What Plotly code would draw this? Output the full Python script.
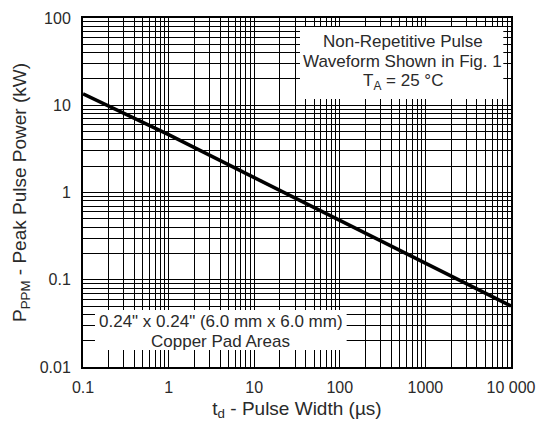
import plotly.graph_objects as go

# Data
pulse_width_us = [0.1, 1, 10000]
peak_power_kw = [13.5, 4.6, 0.05]

x_decades = [0.1, 1, 10, 100, 1000, 10000]
x_decade_labels = ["0.1", "1", "10", "100", "1000", "10 000"]
y_decades = [0.01, 0.1, 1, 10, 100]
y_decade_labels = ["0.01", "0.1", "1", "10", "100"]
minor_multipliers = [2, 3, 4, 5, 6, 7, 8, 9]

box_top_lines = ["Non-Repetitive Pulse", "Waveform Shown in Fig. 1", "T<sub>A</sub> = 25 °C"]
box_bottom_lines = ["0.24\" x 0.24\" (6.0 mm x 6.0 mm)", "Copper Pad Areas"]


def all_ticks(decades, labels):
    vals, texts = [], []
    for i, d in enumerate(decades):
        vals.append(d)
        texts.append(labels[i])
        if i < len(decades) - 1:
            for m in minor_multipliers:
                vals.append(round(d * m, 6))
                texts.append("")
    return vals, texts


xv, xt = all_ticks(x_decades, x_decade_labels)
yv, yt = all_ticks(y_decades, y_decade_labels)

FONT = "Liberation Sans, Arial, Helvetica, sans-serif"
TXT = "#2a2a2a"

fig = go.Figure()
fig.add_trace(go.Scatter(
    x=pulse_width_us, y=peak_power_kw, mode="lines",
    line=dict(color="black", width=3.6), showlegend=False, hoverinfo="skip",
))

axis_common = dict(
    type="log", showgrid=True, gridcolor="black", gridwidth=1,
    showline=True, linecolor="black", linewidth=2, mirror=True, automargin=False,
    ticks="", zeroline=False, tickfont=dict(family=FONT, size=16, color=TXT),
)

fig.update_xaxes(
    range=[-1, 4], tickmode="array", tickvals=xv, ticktext=xt, ticklabelstandoff=5,
    title=dict(text="t<sub>d</sub> - Pulse Width (µs)", font=dict(family=FONT, size=19, color=TXT), standoff=6),
    **axis_common,
)
fig.update_yaxes(
    range=[-2, 2], tickmode="array", tickvals=yv, ticktext=yt, ticklabelstandoff=7,
    title=dict(text="P<sub>PPM</sub> - Peak Pulse Power (kW)", font=dict(family=FONT, size=19, color=TXT), standoff=8),
    **axis_common,
)

shapes = [
    dict(type="rect", xref="paper", yref="paper", x0=0.507, x1=0.982, y0=0.768, y1=0.974,
         fillcolor="white", line=dict(width=0), layer="above"),
    dict(type="rect", xref="paper", yref="paper", x0=0.028, x1=0.616, y0=0.0487, y1=0.163,
         fillcolor="white", line=dict(width=0), layer="above"),
]

annotations = []
for txt, yy in zip(box_top_lines, [0.932, 0.875, 0.817]):
    annotations.append(dict(xref="paper", yref="paper", x=0.7465, y=yy, text=txt, showarrow=False,
                            font=dict(family=FONT, size=17, color=TXT), xanchor="center", yanchor="middle"))
for txt, yy in zip(box_bottom_lines, [0.13, 0.0725]):
    annotations.append(dict(xref="paper", yref="paper", x=0.3224, y=yy, text=txt, showarrow=False,
                            font=dict(family=FONT, size=17, color=TXT), xanchor="center", yanchor="middle"))

fig.update_layout(
    width=538, height=424,
    margin=dict(l=83, r=27, t=18, b=57),
    paper_bgcolor="white", plot_bgcolor="white",
    shapes=shapes, annotations=annotations,
    font=dict(family=FONT, color=TXT),
)

fig.write_html("out.html", config={"displayModeBar": False},
               post_script="document.body.style.margin='0px';")
